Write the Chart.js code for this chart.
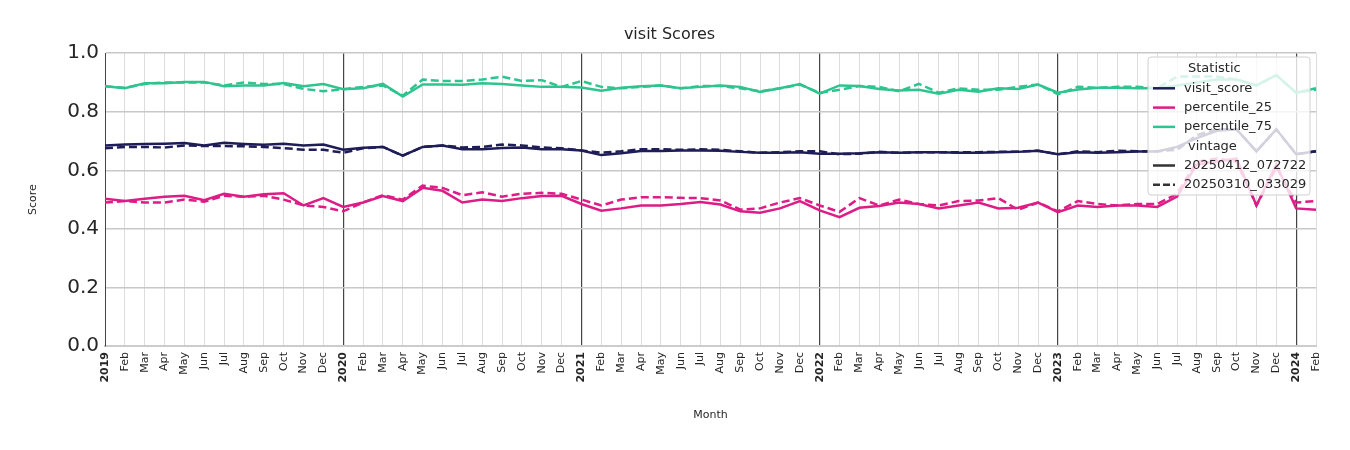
<!DOCTYPE html>
<html>
<head>
<meta charset="utf-8">
<script src="https://cdn.jsdelivr.net/npm/chart.js@4/dist/chart.umd.min.js"></script>
<style>
  body { margin: 0; background: #fff; }
  #wrap { width: 1350px; height: 450px; }
</style>
</head>
<body>
<div id="wrap"><canvas id="c" width="1350" height="450"></canvas></div>
<script>
// months Jan 2019 .. Feb 2024
const monthNames = ['Jan','Feb','Mar','Apr','May','Jun','Jul','Aug','Sep','Oct','Nov','Dec'];
const months = [];
for (let y = 2019; y <= 2024; y++) {
    for (let m = 0; m < 12; m++) {
        if (y === 2024 && m > 1) break;
        months.push(m === 0 ? String(y) : monthNames[m]);
    }
}

const visitNew = [.685,.688,.690,.691,.693,.685,.694,.690,.687,.691,.685,.688,
    .670,.677,.680,.650,.680,.685,.672,.672,.676,.678,.672,.672,
    .668,.652,.658,.666,.666,.668,.668,.667,.663,.660,.660,.662,
    .657,.657,.658,.662,.660,.662,.662,.660,.660,.662,.663,.667,
    .655,.662,.660,.662,.664,.664,.680,.710,.735,.740,.665,.740,
    .655,.665];
const visitOld = [.675,.680,.680,.678,.685,.683,.683,.682,.680,.676,.670,.670,
    .660,.675,.680,.650,.680,.685,.678,.680,.688,.685,.678,.675,
    .668,.660,.665,.672,.672,.670,.672,.670,.665,.660,.662,.665,
    .665,.655,.657,.663,.660,.662,.662,.662,.662,.663,.664,.667,
    .655,.665,.662,.667,.665,.665,.670,.720,.740,.740,.665,.740,
    .655,.665];
const p75New = [.887,.880,.897,.897,.902,.902,.887,.890,.890,.898,.887,.895,
    .877,.880,.895,.852,.893,.893,.892,.897,.895,.890,.885,.885,
    .883,.872,.882,.887,.890,.880,.885,.890,.885,.868,.880,.895,
    .862,.890,.888,.878,.873,.875,.862,.875,.868,.880,.878,.893,
    .865,.876,.882,.882,.880,.880,.890,.900,.910,.910,.890,.925,
    .865,.880];
const p75Old = [.887,.882,.895,.900,.900,.900,.890,.900,.895,.895,.878,.870,
    .877,.885,.890,.855,.910,.905,.905,.910,.920,.905,.908,.885,
    .905,.885,.880,.885,.890,.880,.888,.888,.880,.870,.880,.893,
    .865,.875,.888,.885,.870,.895,.865,.880,.875,.875,.885,.893,
    .860,.885,.882,.885,.885,.880,.920,.920,.920,.910,.890,.925,
    .865,.875];
const p25New = [.503,.495,.503,.510,.513,.498,.520,.510,.518,.522,.480,.505,
    .475,.490,.512,.495,.540,.530,.490,.500,.495,.505,.512,.513,
    .485,.462,.470,.480,.480,.485,.492,.483,.460,.455,.470,.495,
    .463,.440,.472,.478,.490,.485,.470,.480,.490,.470,.472,.490,
    .457,.480,.475,.480,.480,.475,.510,.620,.630,.640,.480,.620,
    .470,.465];
const p25Old = [.490,.495,.490,.490,.500,.493,.513,.510,.513,.500,.480,.475,
    .460,.490,.515,.500,.548,.540,.515,.525,.510,.520,.523,.520,
    .500,.480,.500,.508,.508,.506,.505,.497,.466,.470,.490,.505,
    .480,.458,.505,.480,.500,.485,.480,.495,.497,.505,.465,.490,
    .460,.495,.485,.480,.485,.485,.520,.630,.640,.630,.480,.610,
    .490,.495];
const yTicks = [0, 0.2, 0.4, 0.6, 0.8, 1.0];

const NAVY = '#1f1d57', PINK = '#dd1c86', GREEN = '#2ec48f';
const DASH = [8, 4];

function ds(label, data, color, dashed) {
    return { label, data, borderColor: color, backgroundColor: color, borderWidth: 2.5,
        borderDash: dashed ? DASH : [], pointRadius: 0, tension: 0 };
}

const legendPlugin = {
    id: 'boxLegend',
    afterDatasetsDraw(chart) {
        const ctx = chart.ctx;
        const x = 1148, y = 57, w = 162, h = 138;
        ctx.save();
        ctx.fillStyle = 'rgba(255,255,255,0.8)';
        ctx.strokeStyle = '#d0d0d0';
        ctx.lineWidth = 1;
        ctx.beginPath();
        ctx.roundRect(x, y, w, h, 3);
        ctx.fill(); ctx.stroke();
        ctx.font = '13px "DejaVu Sans"';
        ctx.textBaseline = 'middle';
        const rows = [
            ['Statistic', null, false],
            ['visit_score', NAVY, false],
            ['percentile_25', PINK, false],
            ['percentile_75', GREEN, false],
            ['vintage', null, false],
            ['20250412_072722', '#333', false],
            ['20250310_033029', '#333', true]
        ];
        rows.forEach((r, i) => {
            const ry = y + 12 + i * 19.3;
            ctx.fillStyle = '#262626';
            if (r[1]) {
                ctx.strokeStyle = r[1];
                ctx.lineWidth = 2.5;
                ctx.setLineDash(r[2] ? [7, 3] : []);
                ctx.beginPath(); ctx.moveTo(x + 5, ry); ctx.lineTo(x + 27, ry); ctx.stroke();
                ctx.setLineDash([]);
                ctx.fillText(r[0], x + 36, ry);
            } else {
                ctx.fillText(r[0], x + 40, ry);
            }
        });
        ctx.restore();
    }
};

new Chart(document.getElementById('c'), {
    type: 'line',
    data: {
        labels: months,
        datasets: [
            ds('visit_score 20250412_072722', visitNew, NAVY, false),
            ds('visit_score 20250310_033029', visitOld, NAVY, true),
            ds('percentile_25 20250412_072722', p25New, PINK, false),
            ds('percentile_25 20250310_033029', p25Old, PINK, true),
            ds('percentile_75 20250412_072722', p75New, GREEN, false),
            ds('percentile_75 20250310_033029', p75Old, GREEN, true)
        ]
    },
    options: {
        responsive: false,
        animation: false,
        layout: { padding: { left: 23, right: 34, top: 0, bottom: 24 } },
        plugins: {
            legend: { display: false },
            tooltip: { enabled: false },
            title: { display: true, text: 'visit Scores', color: '#262626',
                font: { family: 'DejaVu Sans', size: 16, weight: 'normal' }, padding: { top: 25, bottom: 9 } }
        },
        scales: {
            x: {
                offset: false,
                afterFit: s => { s.height = 80; },
                grid: { color: c => (c.index % 12 === 0 && c.index > 0) ? '#444' : '#dcdcdc',
                    lineWidth: c => (c.index % 12 === 0 && c.index > 0) ? 1.2 : 1, drawTicks: false },
                border: { color: '#ccc', width: 2 },
                ticks: {
                    autoSkip: false, maxRotation: 90, minRotation: 90, padding: 6, color: '#262626',
                    font: c => ({ family: 'DejaVu Sans', size: 11, weight: c.index % 12 === 0 ? 'bold' : 'normal' })
                },
                title: { display: true, text: 'Month', color: '#262626', font: { family: 'DejaVu Sans', size: 11 }, padding: { top: 2 } }
            },
            y: {
                min: 0, max: 1,
                afterBuildTicks: s => { s.ticks = yTicks.map(v => ({ value: v })); },
                afterFit: s => { s.width = 82; },
                grid: { color: '#c8c8c8', lineWidth: 1.5, drawTicks: false },
                border: { color: '#444', width: 1 },
                ticks: { padding: 6, color: '#262626', font: { family: 'DejaVu Sans', size: 20 },
                    callback: v => v.toFixed(1) },
                title: { display: true, text: 'Score', color: '#262626', font: { family: 'DejaVu Sans', size: 11 } }
            }
        }
    },
    plugins: [legendPlugin]
});
</script>
</body>
</html>
